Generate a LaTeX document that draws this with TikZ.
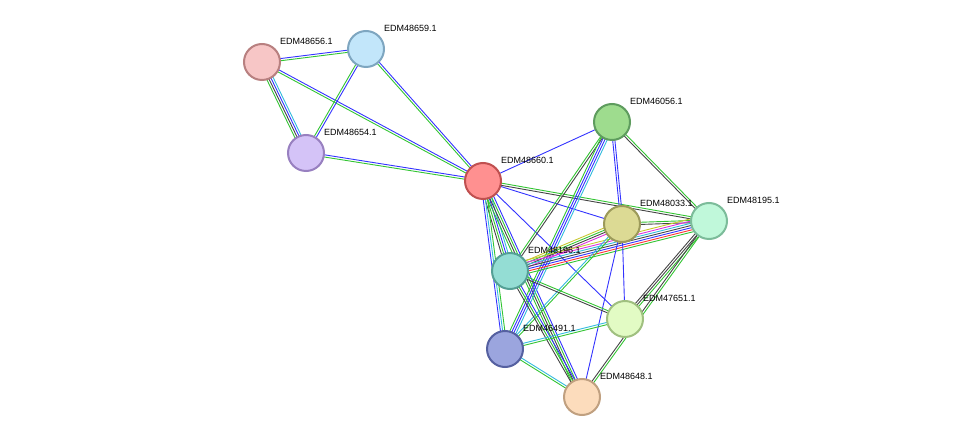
\documentclass[tikz,border=0pt]{standalone}
\usepackage{fontspec}
\setmainfont{Liberation Sans}
\usetikzlibrary{calc}
\definecolor{eg}{HTML}{33C433}\definecolor{eb}{HTML}{3333FF}\definecolor{ek}{HTML}{454545}
\definecolor{ec}{HTML}{33BBDD}\definecolor{er}{HTML}{FF3333}\definecolor{em}{HTML}{DD33DD}\definecolor{ey}{HTML}{C8C830}
\newcommand\edg[4]{\foreach \c [count=\i] in {#4}{\pgfmathsetmacro\o{(\i-(#3+1)/2)*2.2}\draw[\c,line width=0.9pt] ($(#1)!\o pt!90:(#2)$) -- ($(#2)!\o pt!-90:(#1)$);}}
\tikzset{prot/.style={circle,minimum size=36pt,line width=2pt,inner sep=0pt},
lab/.style={anchor=west,font=\fontsize{9}{10}\selectfont,inner sep=1pt}}
\begin{document}
\begin{tikzpicture}[x=1pt,y=-1pt]
\useasboundingbox (0,0) rectangle (975,443);
\coordinate (a656) at (262,62);\coordinate (a659) at (366,49);\coordinate (a654) at (306,153);
\coordinate (a660) at (483,181);\coordinate (a056) at (612,122);\coordinate (a033) at (622,224);
\coordinate (a195) at (709,221);\coordinate (a196) at (510,271);\coordinate (a651) at (625,319);
\coordinate (a491) at (505,349);\coordinate (a648) at (582,397);
\edg{a656}{a659}{2}{eg,eb}
\edg{a656}{a654}{4}{eg,ek,eb,ec}
\edg{a656}{a660}{2}{eg,eb}
\edg{a659}{a654}{2}{eg,eb}
\edg{a659}{a660}{2}{eg,eb}
\edg{a654}{a660}{2}{eg,eb}
\edg{a660}{a056}{1}{eb}
\edg{a660}{a033}{1}{eb}
\edg{a660}{a195}{2}{ek,eg}
\edg{a660}{a196}{4}{ek,eg,eb,ec}
\edg{a660}{a491}{3}{eb,ec,eg}
\edg{a660}{a648}{4}{eg,ek,eg,eb}
\edg{a660}{a651}{1}{eb}
\edg{a056}{a033}{2}{eb,eb}
\edg{a056}{a195}{2}{ek,eg}
\edg{a056}{a196}{2}{eg,ek}
\edg{a056}{a491}{4}{eg,eb,eb,ec}
\edg{a033}{a195}{2}{ek,eg}
\edg{a033}{a196}{4}{ey,eg,ek,em}
\edg{a195}{a196}{7}{ey,em,ec,ek,eb,er,eg}
\edg{a033}{a651}{1}{eb}
\edg{a033}{a648}{1}{eb}
\edg{a033}{a491}{2}{ec,eg}
\edg{a195}{a651}{3}{ek,ek,eg}
\edg{a195}{a648}{2}{ek,eg}
\edg{a196}{a651}{2}{ek,eg}
\edg{a196}{a648}{3}{ek,eg,eb}
\edg{a491}{a651}{2}{eg,ec}
\edg{a491}{a648}{2}{eg,ec}
\node[prot,fill={rgb,255:red,247;green,198;blue,198},draw={rgb,255:red,184;green,128;blue,128}] (n656) at (a656) {};
\node[prot,fill={rgb,255:red,194;green,230;blue,250},draw={rgb,255:red,126;green,166;blue,192}] (n659) at (a659) {};
\node[prot,fill={rgb,255:red,212;green,195;blue,247},draw={rgb,255:red,152;green,128;blue,192}] (n654) at (a654) {};
\node[prot,fill={rgb,255:red,255;green,144;blue,144},draw={rgb,255:red,192;green,80;blue,80}] (n660) at (a660) {};
\node[prot,fill={rgb,255:red,158;green,220;blue,142},draw={rgb,255:red,94;green,156;blue,94}] (n056) at (a056) {};
\node[prot,fill={rgb,255:red,220;green,218;blue,148},draw={rgb,255:red,156;green,154;blue,90}] (n033) at (a033) {};
\node[prot,fill={rgb,255:red,192;green,248;blue,218},draw={rgb,255:red,124;green,188;blue,154}] (n195) at (a195) {};
\node[prot,fill={rgb,255:red,148;green,221;blue,212},draw={rgb,255:red,85;green,160;blue,150}] (n196) at (a196) {};
\node[prot,fill={rgb,255:red,226;green,251;blue,196},draw={rgb,255:red,160;green,192;blue,128}] (n651) at (a651) {};
\node[prot,fill={rgb,255:red,155;green,165;blue,222},draw={rgb,255:red,85;green,96;blue,160}] (n491) at (a491) {};
\node[prot,fill={rgb,255:red,252;green,220;blue,188},draw={rgb,255:red,192;green,160;blue,128}] (n648) at (a648) {};
\foreach \n/\t in {656/EDM48656.1,659/EDM48659.1,654/EDM48654.1,660/EDM48660.1,056/EDM46056.1,033/EDM48033.1,195/EDM48195.1,196/EDM48196.1,651/EDM47651.1,491/EDM46491.1,648/EDM48648.1}
  \node[lab] (l\n) at ($(a\n)+(17,-21)$) {\t};
\end{tikzpicture}
\end{document}
